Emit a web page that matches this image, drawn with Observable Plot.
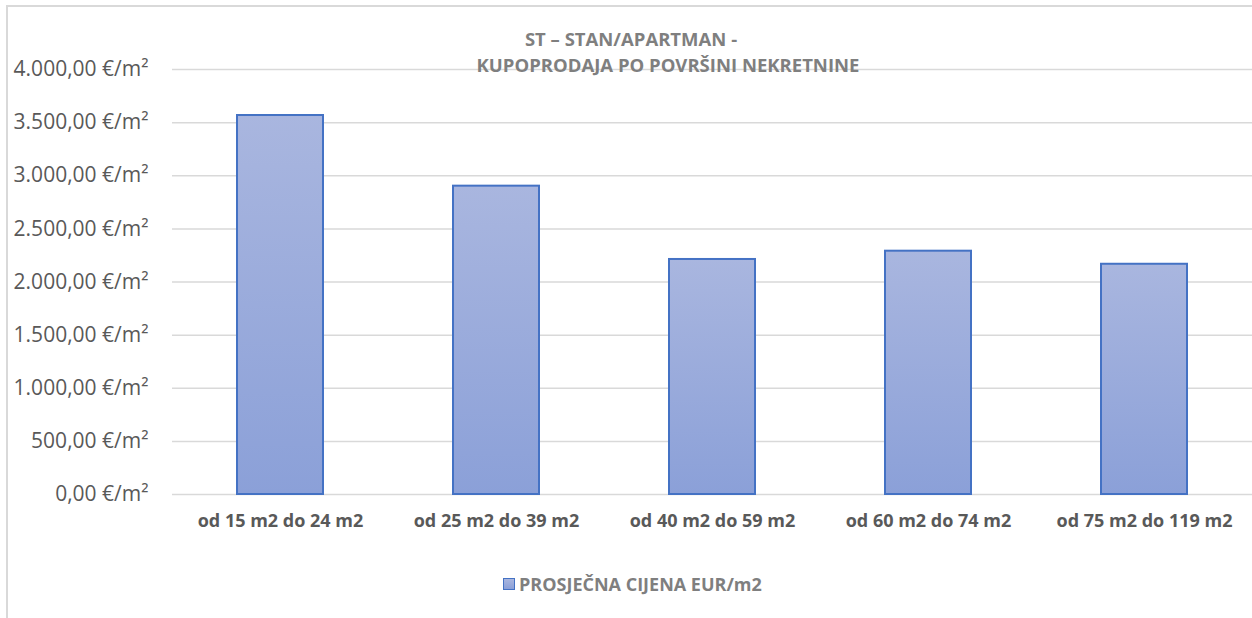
<!DOCTYPE html>
<html>
<head>
<meta charset="utf-8">
<script src="https://cdn.jsdelivr.net/npm/d3@7"></script>
<script src="https://cdn.jsdelivr.net/npm/@observablehq/plot@0.6"></script>
<style>
  html, body { margin: 0; padding: 0; background: #fff; }
  #wrap { position: relative; width: 1252px; height: 618px; overflow: hidden; font-family: "Open Sans", sans-serif; }
  #frame { position: absolute; left: 6px; top: 5px; right: -10px; bottom: -10px; border-left: 2px solid #d9d9d9; border-top: 2px solid #d9d9d9; }
  #chart { position: absolute; left: 0; top: 0; }
  .title { position: absolute; transform: translateX(-50%); white-space: nowrap; font-weight: 700; font-size: 18.5px; line-height: 21px; color: #7f7f7f; }
  #legend { position: absolute; left: 503px; top: 572px; display: flex; align-items: center; font-weight: 700; font-size: 18px; color: #7f7f7f; white-space: nowrap; }
  #legend .sw { width: 10px; height: 10px; background: linear-gradient(#a9b6df, #8ba0d8); border: 1.5px solid #4472c4; margin-right: 4px; }
</style>
</head>
<body>
<div id="wrap">
  <div id="frame"></div>
  <div id="chart"></div>
  <div class="title" id="t1" style="left:631px; top:28px;"></div>
  <div class="title" id="t2" style="left:668px; top:54px;"></div>
  <div id="legend"><span class="sw"></span><span id="legtext"></span></div>
</div>
<script>
const titleLines = ["ST – STAN/APARTMAN -", "KUPOPRODAJA PO POVRŠINI NEKRETNINE"];
const seriesName = "PROSJEČNA CIJENA EUR/m2";
const categories = ["od 15 m2 do 24 m2", "od 25 m2 do 39 m2", "od 40 m2 do 59 m2", "od 60 m2 do 74 m2", "od 75 m2 do 119 m2"];
const values = [3567, 2902, 2212, 2290, 2167];
const yTicks = [0, 500, 1000, 1500, 2000, 2500, 3000, 3500, 4000];

const data = categories.map((c, i) => ({category: c, value: values[i]}));

document.getElementById("t1").textContent = titleLines[0];
document.getElementById("t2").textContent = titleLines[1];
document.getElementById("legtext").textContent = seriesName;

const loc = d3.formatLocale({decimal: ",", thousands: ".", grouping: [3], currency: ["", "€"]});
const fmt = loc.format(",.2f");

const chart = Plot.plot({
  width: 1252,
  height: 618,
  marginTop: 69,
  marginBottom: 124,
  marginLeft: 172,
  marginRight: 0,
  style: {background: "transparent", fontFamily: "Open Sans, sans-serif"},
  x: {domain: categories, paddingInner: 0.6, paddingOuter: 0.3, label: null},
  y: {domain: [0, 4000], label: null},
  marks: [
    Plot.gridY(yTicks, {stroke: "#d9d9d9", strokeOpacity: 1, strokeWidth: 1.5}),
    Plot.axisY(yTicks, {tickSize: 0, tickPadding: 24, tickFormat: d => fmt(d) + " €/m²", fontSize: 21, fill: "#595959", label: null}),
    Plot.axisX({tickSize: 0, tickPadding: 20, fontSize: 18, fontWeight: "bold", fill: "#595959", label: null}),
    Plot.barY(data, {x: "category", y: "value", fill: "url(#barGrad)", stroke: "#4472c4", strokeWidth: 2})
  ]
});

d3.select(chart).insert("defs", ":first-child").html(
  '<linearGradient id="barGrad" x1="0" y1="0" x2="0" y2="1">' +
  '<stop offset="0" stop-color="#a9b6df"/><stop offset="1" stop-color="#8ba0d8"/></linearGradient>'
);
document.getElementById("chart").appendChild(chart);
</script>
</body>
</html>
